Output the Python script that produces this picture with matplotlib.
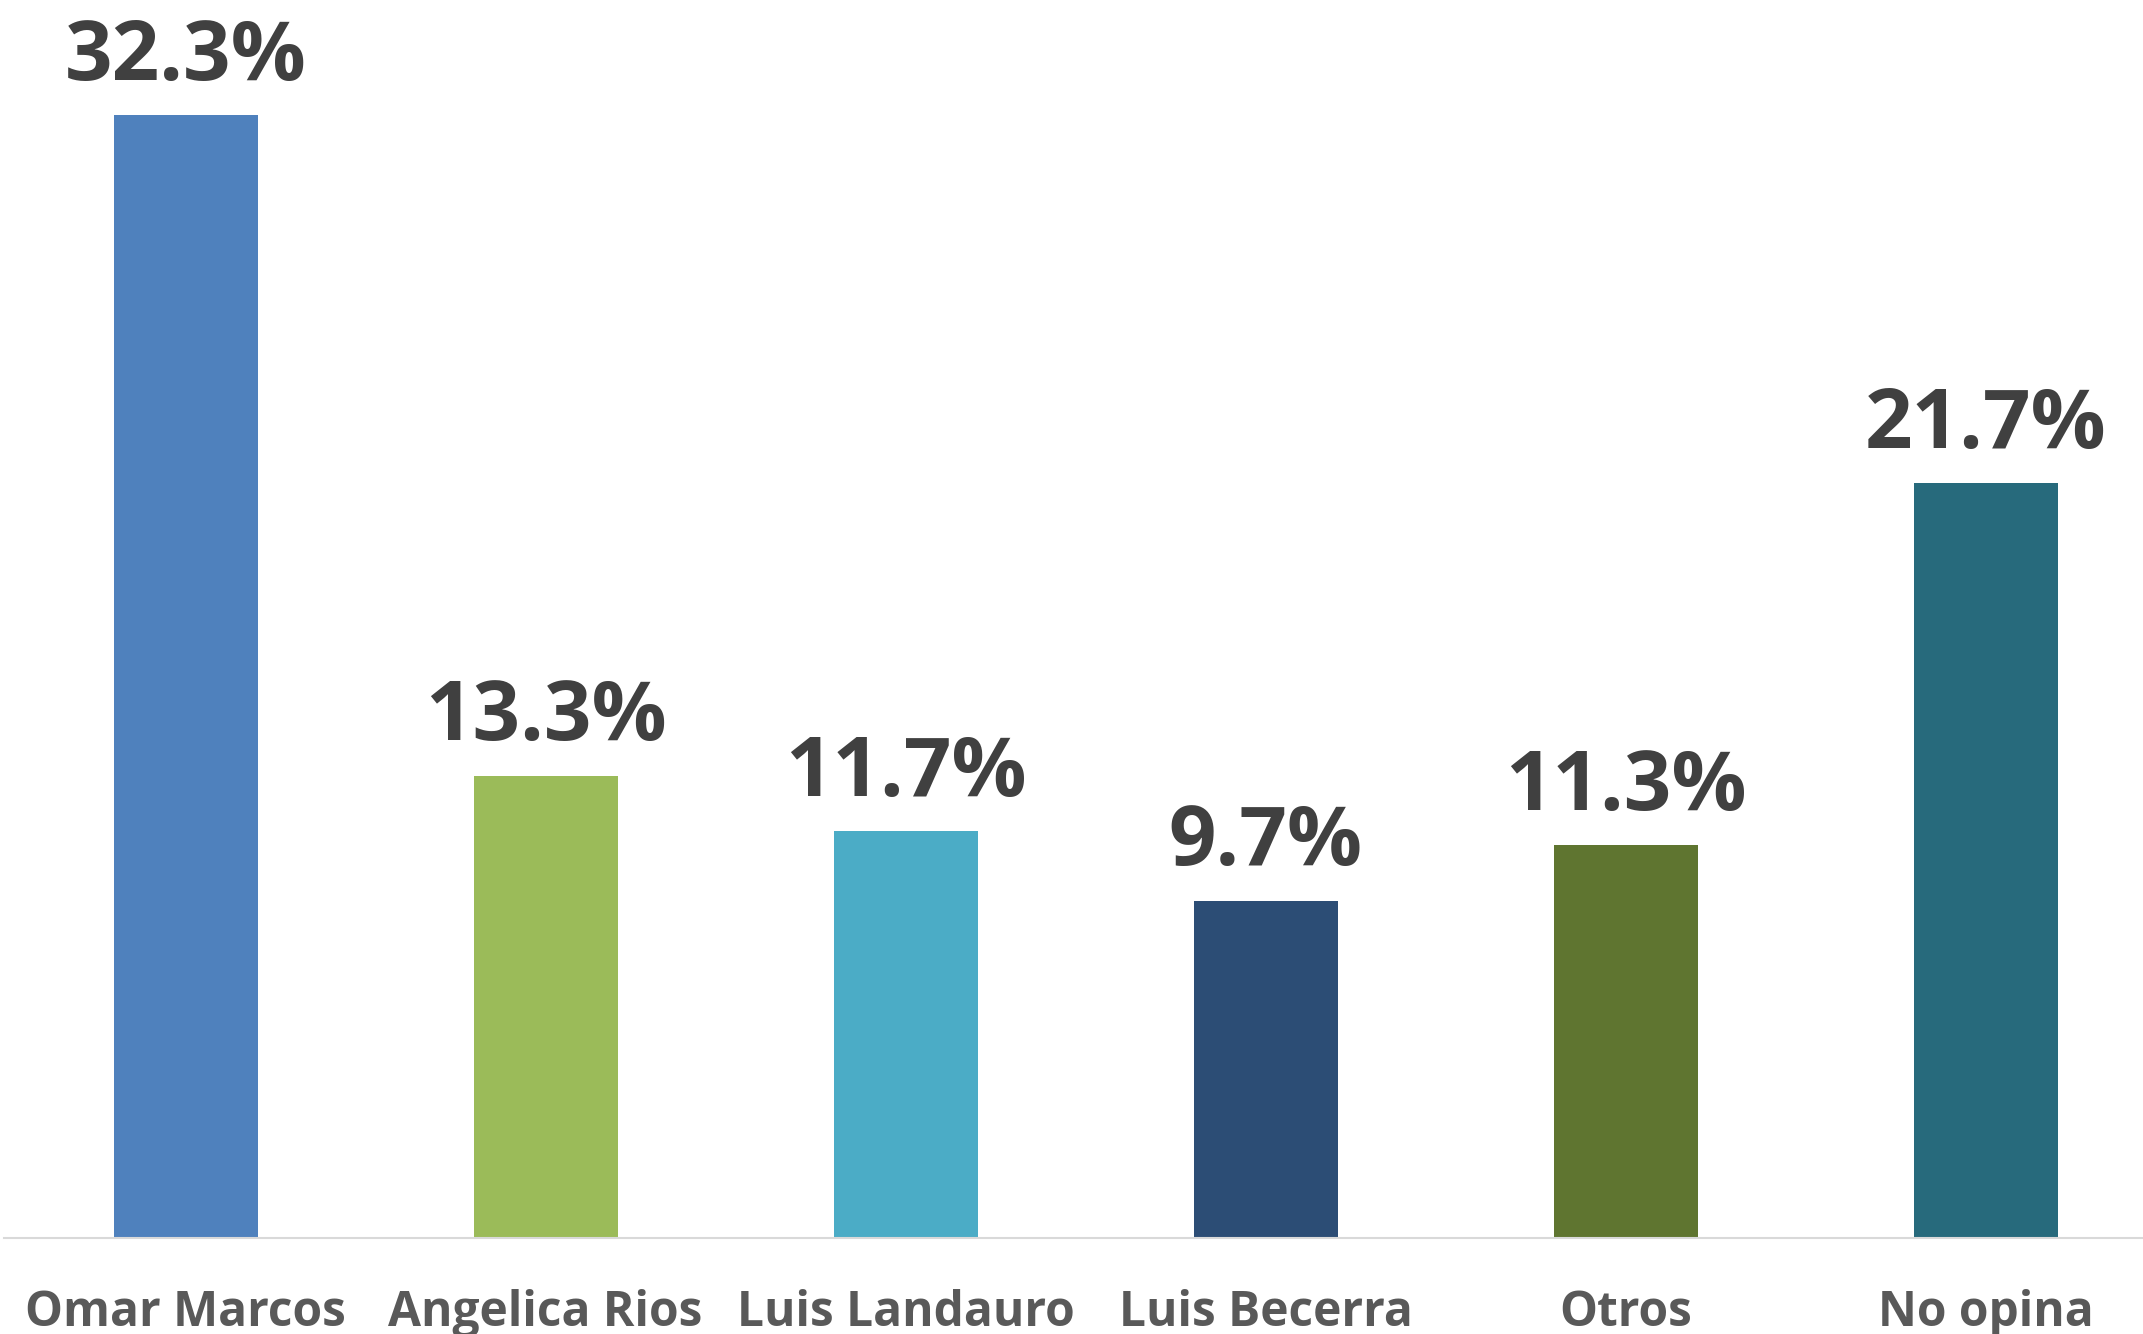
import matplotlib
matplotlib.use("Agg")
import matplotlib.pyplot as plt

categories = ["Omar Marcos", "Angelica Rios", "Luis Landauro", "Luis Becerra", "Otros", "No opina"]
values = [32.3, 13.3, 11.7, 9.7, 11.3, 21.7]
labels = ["32.3%", "13.3%", "11.7%", "9.7%", "11.3%", "21.7%"]
colors = ["#4F81BD", "#9BBB59", "#4BACC6", "#2C4D75", "#5F7530", "#276A7C"]

plt.rcParams['font.family'] = ['Open Sans', 'DejaVu Sans']

fig = plt.figure(figsize=(21.43, 13.34), dpi=100)
W, H = 2143, 1334
base_y = 1238
left_px = 4
ax = fig.add_axes([left_px / W, (H - base_y) / H, (W - left_px) / W, base_y / H])

x = list(range(len(categories)))
ax.bar(x, values, width=0.4, color=colors, zorder=2)
ax.set_xlim(-(185.5 - left_px) / 360, (W - 185.5) / 360)
ax.set_ylim(0, base_y / 34.77)

for xi, v, lab in zip(x, values, labels):
    ax.annotate(lab, (xi, v), xytext=(0, 11), textcoords='offset points',
                ha='center', va='bottom', fontsize=60, fontweight='bold', color='#404040')

for s in ['top', 'right', 'left']:
    ax.spines[s].set_visible(False)
ax.spines['bottom'].set_color('#D9D9D9')
ax.spines['bottom'].set_linewidth(1.5)
ax.set_yticks([])
ax.set_xticks(x)
ax.set_xticklabels(categories, fontsize=34.5, fontweight='bold', color='#595959')
ax.tick_params(axis='x', length=0, pad=37)

fig.savefig("out.png", dpi=100)
